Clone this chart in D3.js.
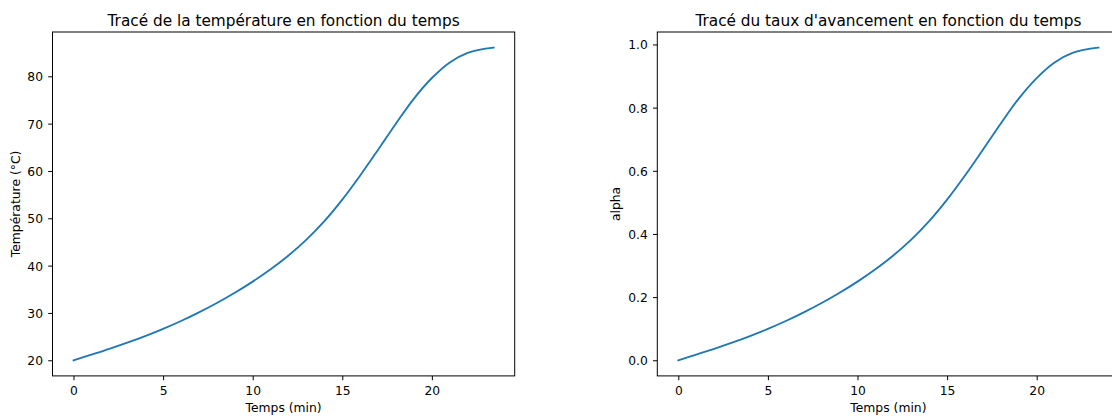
<!DOCTYPE html>
<html>
<head>
<meta charset="utf-8">
<script src="https://cdn.jsdelivr.net/npm/d3@7"></script>
<style>
  html, body { margin: 0; padding: 0; background: #fff; }
  svg { display: block; font-family: "DejaVu Sans", sans-serif; }
</style>
</head>
<body>
<svg id="chart" width="1112" height="416"></svg>
<script>
// ---- data ----
const times = [0, 1, 2, 3, 4, 5, 6, 7, 8, 9, 10, 11, 12, 13, 14, 15, 16, 17, 18, 19, 20, 21, 22, 23, 23.45];
const temperature = [20, 21.2, 22.42, 23.72, 25.12, 26.64, 28.30, 30.12, 32.10, 34.26, 36.62, 39.22, 42.14, 45.49, 49.39, 53.94, 59.04, 64.49, 70.04, 75.29, 79.64, 82.94, 84.94, 85.84, 86.06];
const alpha = [0, 0.0180, 0.0363, 0.0557, 0.0767, 0.0995, 0.1244, 0.1517, 0.1813, 0.2137, 0.2491, 0.2880, 0.3318, 0.3820, 0.4404, 0.5086, 0.5850, 0.6667, 0.7499, 0.8286, 0.8937, 0.9432, 0.9732, 0.9867, 0.9900];
const xTicks = [0, 5, 10, 15, 20];
const tempTicks = [20, 30, 40, 50, 60, 70, 80];
const alphaTicks = [0.0, 0.2, 0.4, 0.6, 0.8, 1.0];
const titles = ["Tracé de la température en fonction du temps", "Tracé du taux d'avancement en fonction du temps"];
const yLabels = ["Température (°C)", "alpha"];
const xLabel = "Temps (min)";

(function () {
const svg = d3.select("#chart");
const axTop = 32, axBottom = 375.9, axW = 462.2;
const tickLen = 4.3, tickFont = 12.3, labelFont = 12.35, titleFont = 15.3;

function padded(ext) {
  const m = (ext[1] - ext[0]) * 0.05;
  return [ext[0] - m, ext[1] + m];
}

function panel(left, ys, yticks, yfmt, title, ylab, ylabX) {
  const g = svg.append("g");
  const x = d3.scaleLinear().domain(padded(d3.extent(times))).range([left, left + axW]);
  const y = d3.scaleLinear().domain(padded(d3.extent(ys))).range([axBottom, axTop]);

  const line = d3.line().x((d, i) => x(times[i])).y(d => y(d)).curve(d3.curveCatmullRom.alpha(0.5));
  g.append("path").datum(ys).attr("d", line)
    .attr("fill", "none").attr("stroke", "#1f77b4").attr("stroke-width", 1.85)
    .attr("stroke-linecap", "square").attr("stroke-linejoin", "round");

  // frame (spines)
  g.append("rect").attr("x", left).attr("y", axTop)
    .attr("width", axW).attr("height", axBottom - axTop)
    .attr("fill", "none").attr("stroke", "#000").attr("stroke-width", 1);

  const xa = g.append("g").attr("transform", `translate(0,${axBottom})`)
    .call(d3.axisBottom(x).tickValues(xTicks).tickSize(tickLen).tickSizeOuter(0).tickFormat(d3.format("d")));
  xa.select(".domain").remove();
  xa.selectAll(".tick line").attr("stroke", "#000").attr("stroke-width", 1);
  xa.selectAll("text").attr("y", 19.1).attr("dy", 0)
    .attr("font-size", tickFont).attr("font-family", "DejaVu Sans").attr("fill", "#000");

  const ya = g.append("g").attr("transform", `translate(${left},0)`)
    .call(d3.axisLeft(y).tickValues(yticks).tickSize(tickLen).tickSizeOuter(0).tickFormat(yfmt));
  ya.select(".domain").remove();
  ya.selectAll(".tick line").attr("stroke", "#000").attr("stroke-width", 1);
  ya.selectAll("text").attr("x", -9.5).attr("dy", "0.36em")
    .attr("font-size", tickFont).attr("font-family", "DejaVu Sans").attr("fill", "#000");

  g.append("text").attr("x", left + axW / 2).attr("y", 26)
    .attr("text-anchor", "middle").attr("font-size", titleFont).attr("fill", "#000").text(title);

  g.append("text").attr("x", left + axW / 2).attr("y", 411.7)
    .attr("text-anchor", "middle").attr("font-size", labelFont).attr("fill", "#000").text(xLabel);

  g.append("text")
    .attr("transform", `translate(${ylabX},${(axTop + axBottom) / 2}) rotate(-90)`)
    .attr("text-anchor", "middle").attr("font-size", labelFont).attr("fill", "#000").text(ylab);
}

panel(52.5, temperature, tempTicks, d3.format("d"), titles[0], yLabels[0], 19.5);
panel(657.3, alpha, alphaTicks, d3.format(".1f"), titles[1], yLabels[1], 620);
})();
</script>
</body>
</html>
